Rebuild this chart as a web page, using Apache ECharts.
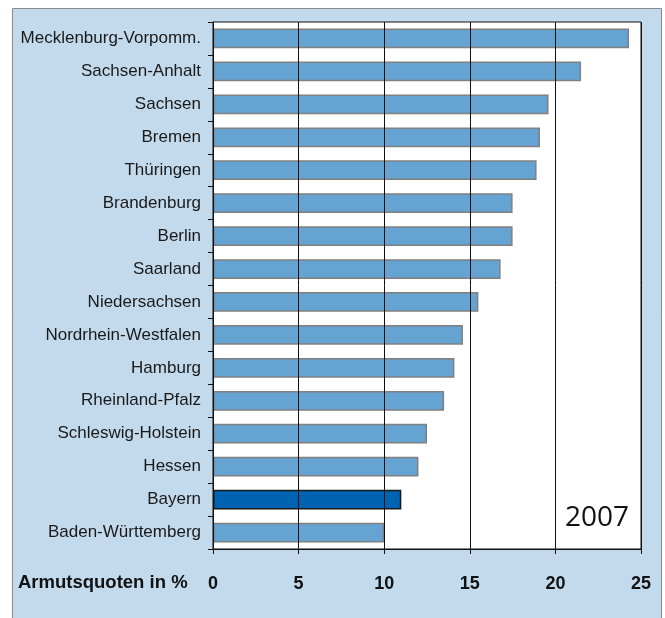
<!DOCTYPE html>
<html>
<head>
<meta charset="utf-8">
<script src="https://cdn.jsdelivr.net/npm/echarts@6/dist/echarts.min.js"></script>
<style>
  html, body { margin: 0; padding: 0; background: #fff; }
  #chart { width: 665px; height: 618px; }
</style>
</head>
<body>
<div id="chart"></div>
<script>
// Armutsquoten 2007 nach Bundesland (in %)
const laender = [
  'Mecklenburg-Vorpomm.', 'Sachsen-Anhalt', 'Sachsen', 'Bremen', 'Thüringen',
  'Brandenburg', 'Berlin', 'Saarland', 'Niedersachsen', 'Nordrhein-Westfalen',
  'Hamburg', 'Rheinland-Pfalz', 'Schleswig-Holstein', 'Hessen', 'Bayern',
  'Baden-Württemberg'
];
const quoten = [24.3, 21.5, 19.6, 19.1, 18.9, 17.5, 17.5, 16.8, 15.5, 14.6, 14.1, 13.5, 12.5, 12.0, 11.0, 10.0];
const hervorgehoben = 'Bayern';
const xTicks = [0, 5, 10, 15, 20, 25];
const jahr = '2007';
const achsenTitel = 'Armutsquoten in %';

const chart = echarts.init(document.getElementById('chart'));

const barData = quoten.map((v, i) => {
  const hl = laender[i] === hervorgehoben;
  return {
    value: v,
    itemStyle: hl
      ? { color: '#0063b1', borderColor: '#1a1a1a', borderWidth: 1.5 }
      : { color: '#65a3d2', borderColor: '#808080', borderWidth: 1.5 }
  };
});

chart.setOption({
  animation: false,
  backgroundColor: '#fff',
  graphic: [
    {
      type: 'rect', z: -10, silent: true,
      shape: { x: 12.5, y: 8.5, width: 649, height: 620 },
      style: { fill: '#c3daed', stroke: '#8a8a8a', lineWidth: 1 }
    },
    {
      type: 'text', left: 18, top: 573, z: 10,
      style: { text: achsenTitel, font: 'bold 18.5px "Liberation Sans", Arial, sans-serif', fill: '#111' }
    },
    {
      type: 'text', right: 36, top: 504, z: 10,
      style: { text: jahr, font: '28px "Open Sans", sans-serif', fill: '#111' }
    }
  ],
  grid: {
    left: 213, right: 24, top: 22, bottom: 69,
    show: true, backgroundColor: '#fff', borderColor: '#111', borderWidth: 1
  },
  xAxis: {
    type: 'value', min: xTicks[0], max: xTicks[xTicks.length - 1], interval: 5,
    z: 3,
    axisLine: { show: true, lineStyle: { color: '#111', width: 1 } },
    axisTick: { show: true, length: 5, lineStyle: { color: '#111' } },
    splitLine: { show: true, lineStyle: { color: '#111', width: 1 } },
    axisLabel: {
      margin: 26, color: '#111', fontSize: 18, fontWeight: 'bold',
      fontFamily: '"Liberation Sans", Arial, sans-serif'
    }
  },
  yAxis: {
    type: 'category', data: laender, inverse: true,
    z: 3,
    axisLine: { show: true, lineStyle: { color: '#111', width: 1 } },
    axisTick: { show: true, length: 5, lineStyle: { color: '#111' } },
    axisLabel: {
      margin: 12, color: '#1a1a1a', fontSize: 17,
      fontFamily: '"Liberation Sans", Arial, sans-serif'
    }
  },
  series: [{
    type: 'bar', data: barData, barWidth: '60%', z: 2
  }]
});
</script>
</body>
</html>
